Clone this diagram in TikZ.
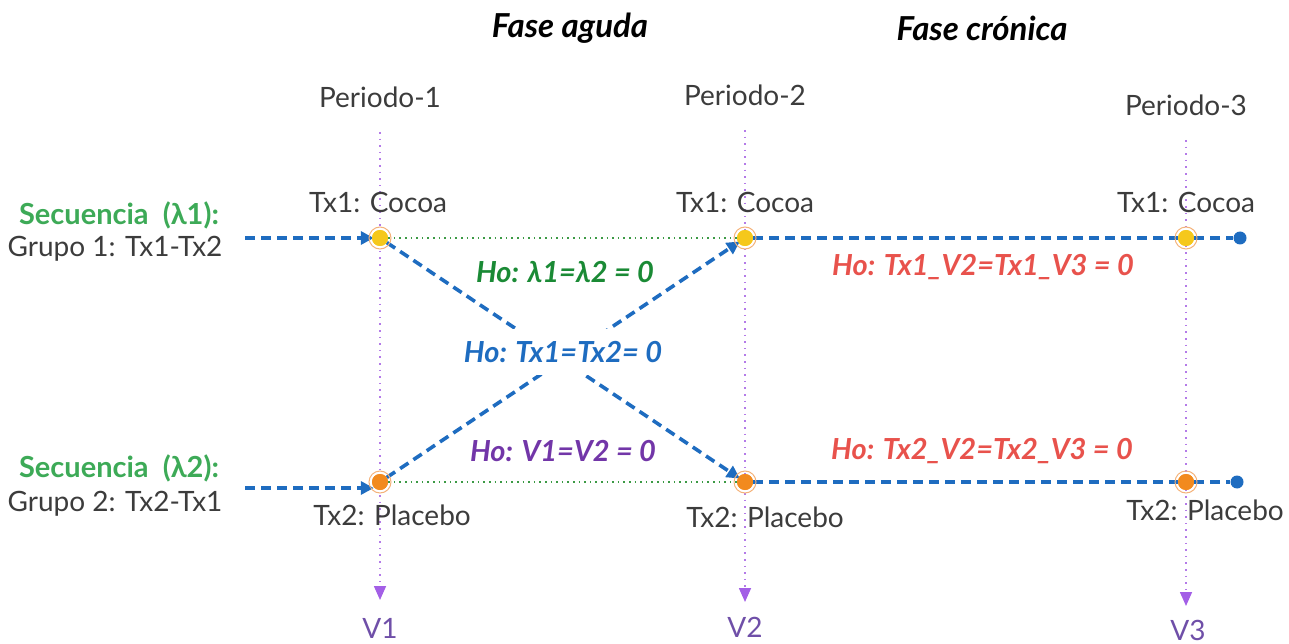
\documentclass[tikz,border=0pt]{standalone}
\usepackage{fontspec}
\setmainfont{Lato}
\usetikzlibrary{arrows.meta}
\definecolor{textc}{HTML}{3C3C3C}
\definecolor{bluec}{HTML}{1E6CC0}
\definecolor{seqg}{HTML}{3DAA57}
\definecolor{hog}{HTML}{1A8A35}
\definecolor{purp}{HTML}{7236A8}
\definecolor{redc}{HTML}{E8524C}
\definecolor{vline}{HTML}{B47BE8}
\definecolor{varr}{HTML}{A35FE6}
\definecolor{vtxt}{HTML}{6F4FA8}
\definecolor{yel}{HTML}{F5C81C}
\definecolor{ora}{HTML}{F28A1E}
\definecolor{ringc}{HTML}{F4B27A}
\definecolor{greendot}{HTML}{3C9A45}
\begin{document}
\begin{tikzpicture}[x=1pt,y=-1pt,
  txt/.style={font=\fontsize{28}{32}\selectfont, text=textc, inner sep=0pt},
  phase/.style={font=\fontsize{33}{38}\selectfont\bfseries\itshape, text=black, inner sep=0pt},
  seq/.style={font=\fontsize{29}{34}\selectfont\bfseries, text=seqg, inner sep=0pt},
  ho/.style={font=\fontsize{29}{34}\selectfont\bfseries\itshape, inner sep=0pt},
  vlab/.style={font=\fontsize{28}{32}\selectfont, text=vtxt, inner sep=0pt},
  dotY/.style={circle, fill=yel, minimum size=16pt, inner sep=0pt},
  dotO/.style={circle, fill=ora, minimum size=16pt, inner sep=0pt},
  dotB/.style={circle, fill=bluec, minimum size=13pt, inner sep=0pt},
  ring/.style={draw=ringc, line width=1pt},
  bdash/.style={draw=bluec, line width=3.6pt, dash pattern=on 10pt off 6pt},
  barrow/.style={bdash, -{Triangle[length=13pt,width=13pt]}, shorten >=-2pt},
  gdot/.style={draw=greendot, line width=1.6pt, dash pattern=on 1.6pt off 4pt},
  pdot/.style={draw=vline, line width=1.6pt, dash pattern=on 1.6pt off 5pt},
  parrow/.style={pdot, -{Triangle[length=14pt,width=12pt,color=varr,fill=varr]}}
]
\useasboundingbox (0,0) rectangle (1289,644);

% phases
\node[phase] (fa) at (570,28) {Fase aguda};
\node[phase] (fc) at (982,28) {Fase crónica};

% periods
\node[txt] (p1) at (380,97) {Periodo-1};
\node[txt] (p2) at (745,95) {Periodo-2};
\node[txt] (p3) at (1186,105) {Periodo-3};

% vertical lines end points
\coordinate (t1) at (380,132);
\coordinate (t2) at (745,130);
\coordinate (t3) at (1186,140);
\node[vlab] (v1) at (380,628) {V1};
\node[vlab] (v2) at (745,627) {V2};
\node[vlab] (v3) at (1188,630) {V3};
\coordinate (e1) at (380,600);
\coordinate (e2) at (745,602);
\coordinate (e3) at (1186,606);
\draw[parrow] (t1) -- (e1);
\draw[parrow] (t2) -- (e2);
\draw[parrow] (t3) -- (e3);

% dots
\node[dotY] (a1) at (380,238) {};
\node[dotY] (a2) at (745,238) {};
\node[dotY] (a3) at (1186,238) {};
\node[dotB] (aend) at (1240,238) {};
\node[dotO] (b1) at (380,482) {};
\node[dotO] (b2) at (745,482) {};
\node[dotO] (b3) at (1186,482) {};
\node[dotB] (bend) at (1237,482) {};

% green dotted links
\draw[gdot] (a1) -- (a2);
\draw[gdot] (b1) -- (b2);

% start coordinates
\coordinate (sa) at (245,238);
\coordinate (sb) at (245,488);
\draw[barrow] (sa) -- (a1);
\draw[barrow] (sb) -- (sb -| b1.west);

% diagonals
\draw[barrow] (a1) -- (b2);
\draw[barrow] (b1) -- (a2);

% right dashed
\draw[bdash] (a2) -- (a3) -- (aend);
\draw[bdash] (b2) -- (b3) -- (bend);

% rings
\foreach \n in {a1,a2,a3,b1,b2,b3} \draw[ring] (\n.center) circle (11pt);
\node[dotY] at (a1) {};
\node[dotY] at (a2) {};
\node[dotY] at (a3) {};
\node[dotO] at (b1) {};
\node[dotO] at (b2) {};
\node[dotO] at (b3) {};

% labels
\node[txt] (c1) at (378,202) {Tx1: Cocoa};
\node[txt] (c2) at (745,202) {Tx1: Cocoa};
\node[txt] (c3) at (1186,202) {Tx1: Cocoa};
\node[txt] (pl1) at (392,515) {Tx2: Placebo};
\node[txt] (pl2) at (765,517) {Tx2: Placebo};
\node[txt] (pl3) at (1205,510) {Tx2: Placebo};

\node[seq] (s1) at (119,215) {Secuencia\ \ (λ1):};
\node[txt] (g1) at (115,249) {Grupo 1: Tx1-Tx2};
\node[seq] (s2) at (119,468) {Secuencia\ \ (λ2):};
\node[txt] (g2) at (115,504) {Grupo 2: Tx2-Tx1};

\node[ho, text=hog] (h1) at (565,272) {Ho: λ1=λ2 = 0};
\node[ho, text=bluec, fill=white, inner xsep=4pt, inner ysep=12pt] (h2) at (563,352) {Ho: Tx1=Tx2= 0};
\node[ho, text=purp] (h3) at (563,451) {Ho: V1=V2 = 0};
\node[ho, text=redc] (h4) at (983,267) {Ho: Tx1\_V2=Tx1\_V3 = 0};
\node[ho, text=redc] (h5) at (982,451) {Ho: Tx2\_V2=Tx2\_V3 = 0};
\end{tikzpicture}
\end{document}
